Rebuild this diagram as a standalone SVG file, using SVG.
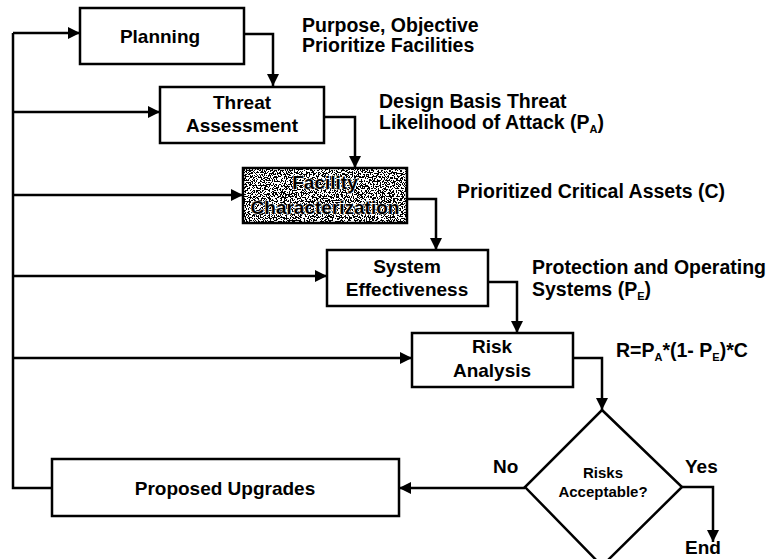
<svg xmlns="http://www.w3.org/2000/svg" width="775" height="559" viewBox="0 0 775 559">
  <style>
    .box { fill: #ffffff; stroke: #000000; stroke-width: 2.5; }
    .lbl { font-family: "Liberation Sans", Arial, sans-serif; font-weight: bold; font-size: 19px; fill: #000000; }
    .note { font-size: 19.5px; }
    .mid { text-anchor: middle; }
    .small { font-size: 15px; }
    .sub { font-size: 11px; }
    .wire { fill: none; stroke: #000000; stroke-width: 2.5; }
    .dark { fill: #000000; stroke: #ffffff; stroke-width: 1.2; paint-order: stroke; }
  </style>
  <defs>
    <marker id="arrow" markerUnits="userSpaceOnUse" markerWidth="14" markerHeight="14" refX="12" refY="6" orient="auto">
      <path d="M0,0 L12,6 L0,12 Z" fill="#000000"/>
    </marker>
    <!-- black/white speckle used for the characterization box -->
    <filter id="grain" x="0" y="0" width="1" height="1">
      <feTurbulence type="fractalNoise" baseFrequency="0.75" numOctaves="2" seed="7" result="n"/>
      <feColorMatrix in="n" type="matrix" values="1 0 0 0 0  1 0 0 0 0  1 0 0 0 0  0 0 0 0 1" result="g"/>
      <feComponentTransfer in="g" result="bw">
        <feFuncR type="discrete" tableValues="0 0 1 1"/>
        <feFuncG type="discrete" tableValues="0 0 1 1"/>
        <feFuncB type="discrete" tableValues="0 0 1 1"/>
      </feComponentTransfer>
      <feComposite in="bw" in2="SourceGraphic" operator="in"/>
    </filter>
  </defs>

  <rect width="775" height="559" fill="#ffffff"/>

  <g id="connectors">
    <!-- feedback loop on the left -->
    <path class="wire" d="M52,488 H13 V33"/>
    <path class="wire" d="M13,33 H80" marker-end="url(#arrow)"/>
    <path class="wire" d="M13,112 H160" marker-end="url(#arrow)"/>
    <path class="wire" d="M13,195 H243" marker-end="url(#arrow)"/>
    <path class="wire" d="M13,276 H327" marker-end="url(#arrow)"/>
    <path class="wire" d="M13,358 H412" marker-end="url(#arrow)"/>
    <!-- main cascade -->
    <path class="wire" d="M244,34 H273 V86" marker-end="url(#arrow)"/>
    <path class="wire" d="M324,117 H355 V168" marker-end="url(#arrow)"/>
    <path class="wire" d="M407,199 H436 V250" marker-end="url(#arrow)"/>
    <path class="wire" d="M488,282 H517 V333" marker-end="url(#arrow)"/>
    <path class="wire" d="M573,358 H602 V410" marker-end="url(#arrow)"/>
    <!-- decision outcomes -->
    <path class="wire" d="M682,487 H713 V542" marker-end="url(#arrow)"/>
    <path class="wire" d="M525,488 H399" marker-end="url(#arrow)"/>
  </g>

  <g id="planning">
    <rect class="box" x="80" y="8" width="164" height="56"/>
    <text class="lbl mid" x="160" y="43">Planning</text>
  </g>

  <g id="threat-assessment">
    <rect class="box" x="160" y="87" width="164" height="56"/>
    <text class="lbl mid" x="242" y="109">Threat</text>
    <text class="lbl mid" x="242" y="132">Assessment</text>
  </g>

  <g id="facility-characterization">
    <rect x="243" y="168" width="164" height="55" fill="#000000" filter="url(#grain)"/>
    <rect x="243" y="168" width="164" height="55" fill="none" stroke="#000000" stroke-width="2.5"/>
    <text class="lbl mid dark" x="325" y="189">Facility</text>
    <text class="lbl mid dark" x="325" y="214">Characterization</text>
  </g>

  <g id="system-effectiveness">
    <rect class="box" x="327" y="250" width="161" height="56"/>
    <text class="lbl mid" x="407" y="273">System</text>
    <text class="lbl mid" x="407" y="296">Effectiveness</text>
  </g>

  <g id="risk-analysis">
    <rect class="box" x="412" y="333" width="161" height="54"/>
    <text class="lbl mid" x="492" y="353">Risk</text>
    <text class="lbl mid" x="492" y="377">Analysis</text>
  </g>

  <g id="risks-acceptable">
    <polygon class="box" points="602,410 682,487 602,566 525,487"/>
    <text class="lbl mid small" x="603" y="478">Risks</text>
    <text class="lbl mid small" x="603" y="497">Acceptable?</text>
  </g>

  <g id="proposed-upgrades">
    <rect class="box" x="52" y="459" width="347" height="57"/>
    <text class="lbl mid" x="225" y="495">Proposed Upgrades</text>
  </g>

  <g id="annotations">
    <text class="lbl note" x="302" y="32">Purpose, Objective</text>
    <text class="lbl note" x="302" y="52">Prioritize Facilities</text>
    <text class="lbl note" x="379" y="108">Design Basis Threat</text>
    <text class="lbl note" x="379" y="129">Likelihood of Attack (P<tspan class="sub" dy="4">A</tspan><tspan dy="-4">)</tspan></text>
    <text class="lbl note" x="457" y="198">Prioritized Critical Assets (C)</text>
    <text class="lbl note" x="532" y="274">Protection and Operating</text>
    <text class="lbl note" x="532" y="296">Systems (P<tspan class="sub" dy="4">E</tspan><tspan dy="-4">)</tspan></text>
    <text class="lbl note" x="616" y="357">R=P<tspan class="sub" dy="4">A</tspan><tspan dy="-4">*(1- P</tspan><tspan class="sub" dy="4">E</tspan><tspan dy="-4">)*C</tspan></text>
    <text class="lbl" x="493" y="473">No</text>
    <text class="lbl" x="685" y="473">Yes</text>
    <text class="lbl" x="685" y="554">End</text>
  </g>
</svg>
